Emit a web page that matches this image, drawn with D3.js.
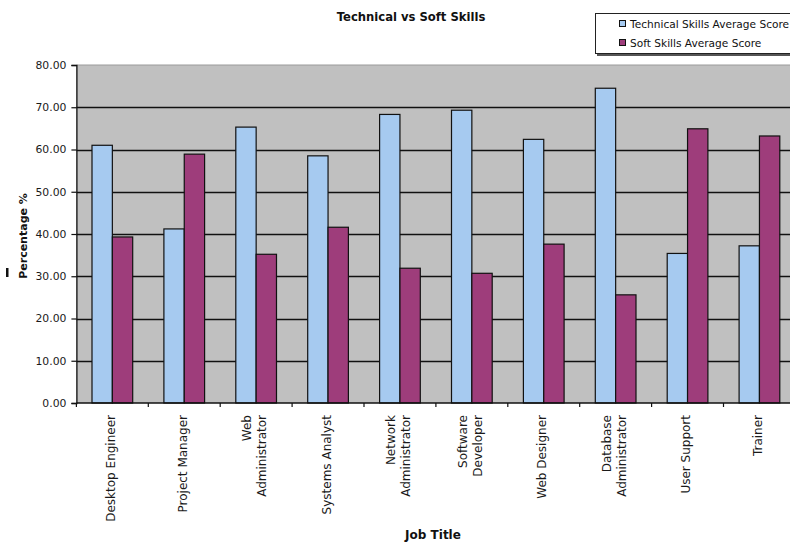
<!DOCTYPE html>
<html>
<head>
<meta charset="utf-8">
<script src="https://cdn.jsdelivr.net/npm/d3@7"></script>
<style>
  html, body { margin: 0; padding: 0; background: #fff; }
  svg { display: block; }
</style>
</head>
<body>
<svg id="chart" width="790" height="542"></svg>
<script>
// Job titles (multi-line labels split on "\n")
const categories = [
  "Desktop Engineer", "Project Manager", "Web\nAdministrator", "Systems Analyst",
  "Network\nAdministrator", "Software\nDeveloper", "Web Designer",
  "Database\nAdministrator", "User Support", "Trainer"
];
const seriesNames = ["Technical Skills Average Score", "Soft Skills Average Score"];
const technicalScores = [61.0, 41.2, 65.3, 58.5, 68.3, 69.3, 62.4, 74.5, 35.4, 37.2];
const softScores      = [39.3, 58.9, 35.2, 41.6, 31.9, 30.7, 37.6, 25.6, 64.9, 63.2];
const yTicks = [0, 10, 20, 30, 40, 50, 60, 70, 80];

const seriesColors = ["#a6caf0", "#9e3d7b"];
const svg = d3.select("#chart");
const font = "DejaVu Sans, Verdana, sans-serif";

// Plot area
const plot = { left: 76.4, top: 65, width: 719, height: 338 };

const x = d3.scaleBand()
  .domain(categories)
  .range([plot.left, plot.left + plot.width])
  .paddingInner(0).paddingOuter(0);

const y = d3.scaleLinear()
  .domain([0, 80])
  .range([plot.top + plot.height, plot.top]);

const barW = x.bandwidth() * 0.283;
const x1 = d3.scaleBand()
  .domain(seriesNames)
  .range([(x.bandwidth() - 2 * barW) / 2, (x.bandwidth() + 2 * barW) / 2]);

// Background
svg.append("rect")
  .attr("x", plot.left).attr("y", plot.top)
  .attr("width", plot.width).attr("height", plot.height)
  .attr("fill", "#c0c0c0");

// Top border of plot
svg.append("line")
  .attr("x1", plot.left).attr("x2", plot.left + plot.width)
  .attr("y1", y(80)).attr("y2", y(80))
  .attr("stroke", "#9a9a9a").attr("stroke-width", 1);

// Horizontal gridlines
svg.append("g").selectAll("line")
  .data(yTicks.filter(t => t > 0 && t < 80))
  .join("line")
  .attr("x1", plot.left).attr("x2", plot.left + plot.width)
  .attr("y1", d => Math.round(y(d)) + 0.5).attr("y2", d => Math.round(y(d)) + 0.5)
  .attr("stroke", "#111").attr("stroke-width", 1.3);

// Bars
const rows = categories.map((c, i) => ({ cat: c, values: [technicalScores[i], softScores[i]] }));
const groups = svg.append("g").selectAll("g")
  .data(rows)
  .join("g")
  .attr("transform", d => `translate(${x(d.cat)},0)`);

groups.selectAll("rect")
  .data(d => d.values.map((v, k) => ({ key: seriesNames[k], value: v, k })))
  .join("rect")
  .attr("x", d => x1(d.key))
  .attr("width", x1.bandwidth())
  .attr("y", d => y(d.value))
  .attr("height", d => y(0) - y(d.value))
  .attr("fill", d => seriesColors[d.k])
  .attr("stroke", "#111")
  .attr("stroke-width", 1.2);

// Y axis
const yAxis = svg.append("g")
  .attr("transform", `translate(${plot.left},0)`)
  .call(d3.axisLeft(y).tickValues(yTicks).tickFormat(d3.format(".2f")).tickSize(5).tickPadding(5));
yAxis.select(".domain").attr("stroke", "#111").attr("stroke-width", 1.3);
yAxis.selectAll(".tick line").attr("stroke", "#111").attr("stroke-width", 1.2);
yAxis.selectAll(".tick text")
  .attr("font-family", font).attr("font-size", 10.8).attr("fill", "#1a1a1a");

// X axis (ticks at category boundaries)
const xBase = y(0);
svg.append("line")
  .attr("x1", plot.left).attr("x2", plot.left + plot.width)
  .attr("y1", xBase).attr("y2", xBase)
  .attr("stroke", "#111").attr("stroke-width", 1.4);
svg.append("g").selectAll("line")
  .data(d3.range(categories.length + 1))
  .join("line")
  .attr("x1", i => plot.left + i * x.bandwidth())
  .attr("x2", i => plot.left + i * x.bandwidth())
  .attr("y1", xBase).attr("y2", xBase + 4)
  .attr("stroke", "#111").attr("stroke-width", 1.2);

// Rotated category labels
const labelTop = 415;
const lineGap = 15;
svg.append("g").selectAll("text")
  .data(categories)
  .join("text")
  .attr("transform", d => `translate(${x(d) + x.bandwidth() / 2 - 1.5},${labelTop}) rotate(-90)`)
  .attr("text-anchor", "end")
  .attr("font-family", font)
  .attr("font-size", 12)
  .attr("fill", "#1a1a1a")
  .each(function (d) {
    const lines = d.split("\n");
    const el = d3.select(this);
    lines.forEach((ln, i) => {
      const offset = (i - (lines.length - 1) / 2) * lineGap + 4.2;
      el.append("tspan").attr("x", 0).attr("y", offset).text(ln);
    });
  });

// Title
svg.append("text")
  .attr("x", 411).attr("y", 21)
  .attr("text-anchor", "middle")
  .attr("font-family", font).attr("font-weight", "bold").attr("font-size", 11.6)
  .attr("fill", "#111")
  .text("Technical vs Soft Skills");

// Axis titles
svg.append("text")
  .attr("x", 433).attr("y", 539)
  .attr("text-anchor", "middle")
  .attr("font-family", font).attr("font-weight", "bold").attr("font-size", 12)
  .attr("fill", "#111")
  .text("Job Title");

svg.append("text")
  .attr("transform", "translate(27,236) rotate(-90)")
  .attr("text-anchor", "middle")
  .attr("font-family", font).attr("font-weight", "bold").attr("font-size", 11)
  .attr("fill", "#111")
  .text("Percentage %");
svg.append("rect")
  .attr("x", 6).attr("y", 268).attr("width", 2.5).attr("height", 9)
  .attr("fill", "#111");

// Legend
const legend = svg.append("g");
legend.append("rect")
  .attr("x", 597).attr("y", 15).attr("width", 220).attr("height", 41)
  .attr("fill", "#555");
legend.append("rect")
  .attr("x", 595.5).attr("y", 13.5).attr("width", 220).attr("height", 40)
  .attr("fill", "#fff").attr("stroke", "#222").attr("stroke-width", 1);

const legendItems = legend.selectAll("g.item")
  .data(seriesNames)
  .join("g")
  .attr("class", "item")
  .attr("transform", (d, i) => `translate(619,${23.5 + i * 19})`);
legendItems.append("rect")
  .attr("x", 0.5).attr("y", -3).attr("width", 6).attr("height", 6)
  .attr("fill", (d, i) => seriesColors[i])
  .attr("stroke", "#111").attr("stroke-width", 1);
legendItems.append("text")
  .attr("x", 11).attr("y", 4)
  .attr("font-family", font).attr("font-size", 10.6)
  .attr("fill", "#111")
  .text(d => d);
</script>
</body>
</html>
